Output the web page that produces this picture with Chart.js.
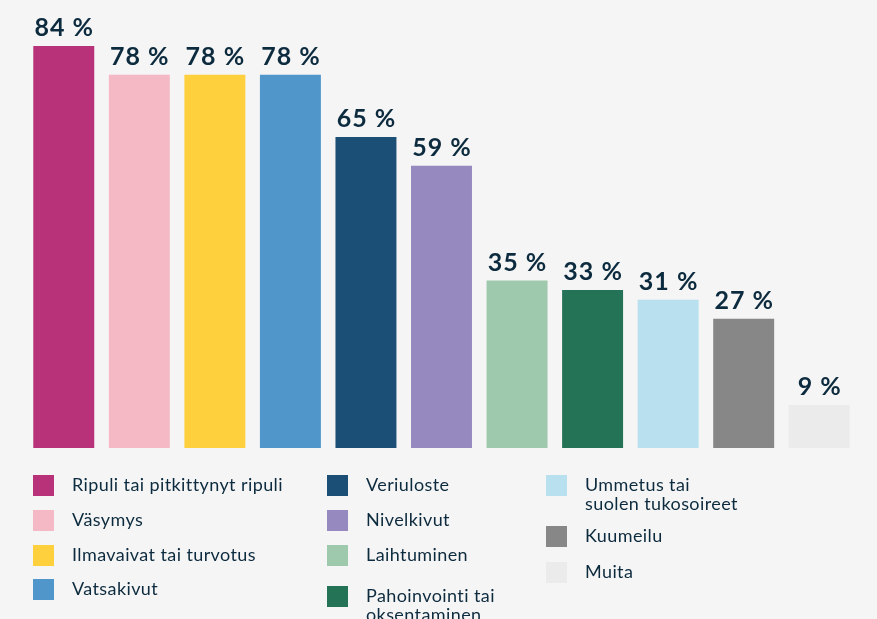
<!DOCTYPE html>
<html>
<head>
<meta charset="utf-8">
<script src="https://cdn.jsdelivr.net/npm/chart.js@4"></script>
<style>
  html, body { margin: 0; padding: 0; background: #f5f5f5; overflow: hidden; }
  body { width: 877px; height: 619px; position: relative; font-family: Lato, "Open Sans", sans-serif; }
  #wrap { position: absolute; left: 0; top: 0; width: 877px; height: 460px; }
  #legend { position: absolute; left: 0; top: 0; width: 877px; height: 619px; pointer-events: none; }
  .item { position: absolute; }
  .box { position: absolute; left: 0; top: 0; width: 21px; height: 21px; }
  .txt { position: absolute; left: 39px; top: 0px; white-space: pre; font-size: 18px; letter-spacing: 0.4px; line-height: 19px; color: #0d2b3e; }
</style>
</head>
<body>
<div id="wrap"><canvas id="grafik"></canvas></div>
<div id="legend"></div>
<script>
// ======= Data =======
const kategoriat = [
    "Ripuli tai pitkittynyt ripuli",
    "Väsymys",
    "Ilmavaivat tai turvotus",
    "Vatsakivut",
    "Veriuloste",
    "Nivelkivut",
    "Laihtuminen",
    "Pahoinvointi tai\noksentaminen",
    "Ummetus tai\nsuolen tukosoireet",
    "Kuumeilu",
    "Muita"
];
const arvot = [84, 78, 78, 78, 65, 59, 35, 33, 31, 27, 9];
const varit = [
    "#b8327a", "#f5b9c6", "#ffd03e", "#5096cb", "#1b4f75", "#9589c0",
    "#9fc9ad", "#257357", "#b8e0ef", "#878787", "#ebebeb"
];

// ======= Legendan sijainnit (vasen, ylä) =======
const legendaPaikat = [
    [33, 475], [33, 510], [33, 545], [33, 579],
    [327, 475], [327, 510], [327, 545], [327, 586],
    [546, 475], [546, 526], [546, 562]
];

// ======= Prosenttitekstit pylväiden päälle =======
const arvoTekstit = {
    id: 'arvoTekstit',
    afterDatasetsDraw(chart) {
        const ctx = chart.ctx;
        const meta = chart.getDatasetMeta(0);
        ctx.save();
        ctx.fillStyle = '#0d2b3e';
        ctx.font = 'bold 25px Lato, sans-serif';
        ctx.letterSpacing = '1px';
        ctx.textAlign = 'center';
        ctx.textBaseline = 'alphabetic';
        meta.data.forEach((bar, i) => {
            ctx.fillText(arvot[i] + ' %', bar.x + 0.5, bar.y - 10);
        });
        ctx.restore();
    }
};

const ctx = document.getElementById('grafik').getContext('2d');
new Chart(ctx, {
    type: 'bar',
    data: {
        labels: kategoriat,
        datasets: [{
            data: arvot,
            backgroundColor: varit,
            borderWidth: 0,
            categoryPercentage: 1,
            barPercentage: 0.807
        }]
    },
    options: {
        responsive: true,
        maintainAspectRatio: false,
        animation: false,
        layout: { padding: { left: 26, right: 20, top: 46, bottom: 12 } },
        plugins: {
            legend: { display: false },
            tooltip: { enabled: false }
        },
        scales: {
            x: { display: false },
            y: { display: false, min: 0, max: 84 }
        }
    },
    plugins: [arvoTekstit]
});

// ======= Legenda =======
const legendEl = document.getElementById('legend');
kategoriat.forEach((nimi, i) => {
    const item = document.createElement('div');
    item.className = 'item';
    item.style.left = legendaPaikat[i][0] + 'px';
    item.style.top = legendaPaikat[i][1] + 'px';
    const box = document.createElement('div');
    box.className = 'box';
    box.style.background = varit[i];
    const txt = document.createElement('div');
    txt.className = 'txt';
    txt.textContent = nimi;
    item.appendChild(box);
    item.appendChild(txt);
    legendEl.appendChild(item);
});
</script>
</body>
</html>
